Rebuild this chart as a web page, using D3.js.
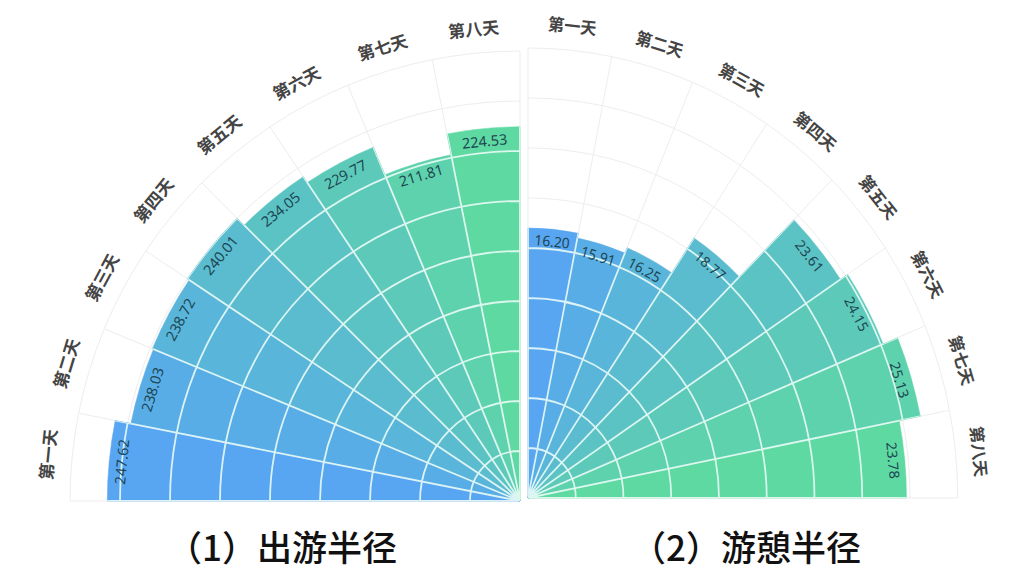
<!DOCTYPE html>
<html><head><meta charset="utf-8">
<script src="https://cdn.jsdelivr.net/npm/d3@7"></script>
<style>body{margin:0;background:#fff}svg{display:block}</style>
</head><body>
<svg id="chart" width="1024" height="581"></svg>
<script>
const days = ["第一天","第二天","第三天","第四天","第五天","第六天","第七天","第八天"];
const travelRadius = [247.62, 238.03, 238.72, 240.01, 234.05, 229.77, 211.81, 224.53];
const recreationRadius = [16.20, 15.91, 16.25, 18.77, 23.61, 24.15, 25.13, 23.78];
const travelTicks = [30, 60, 90, 120, 150, 180, 210, 240, 270];
const recreationTicks = [3, 6, 9, 12, 15, 18, 21, 24, 27];
const titles = ["（1）出游半径", "（2）游憩半径"];

const svg = d3.select("#chart");
const R = 450;
const colorStart = "#58a6f2", colorEnd = "#5fd9a2";

function drawPolar(cfg, idx) {
  const g = svg.append("g")
    .attr("transform", `translate(${cfg.cx},${cfg.cy}) scale(${cfg.sx},1)`);
  const angle = d3.scaleBand().domain(days).range(cfg.angleRange).paddingInner(0).paddingOuter(0);
  const radius = d3.scaleLinear().domain([0, d3.max(cfg.ticks)]).range([0, R]);
  const color = d3.scaleLinear().domain([0, days.length - 1])
    .range([colorStart, colorEnd]).interpolate(d3.interpolateRgb);
  const [a0, a1] = cfg.angleRange;
  const bw = angle.bandwidth();
  const boundaries = days.map(d => angle(d)).concat([a1]);

  function gridPath(p) {
    cfg.ticks.forEach(t => {
      const r = radius(t);
      p.moveTo(r * Math.sin(a0), -r * Math.cos(a0));
      p.arc(0, 0, r, a0 - Math.PI / 2, a1 - Math.PI / 2);
    });
    boundaries.forEach(a => {
      p.moveTo(0, 0);
      p.lineTo(R * Math.sin(a), -R * Math.cos(a));
    });
    return p;
  }

  g.append("path").attr("d", gridPath(d3.path()).toString())
    .attr("fill", "none").attr("stroke", "#ededed").attr("stroke-width", 1);

  const arc = d3.arc()
    .innerRadius(0)
    .outerRadius(d => radius(d.v))
    .startAngle(d => angle(d.day))
    .endAngle(d => angle(d.day) + bw);

  const data = days.map((day, i) => ({day, v: cfg.values[i], i}));

  const clipId = "barsClip" + idx;
  svg.append("defs").append("clipPath").attr("id", clipId)
    .selectAll("path").data(data).join("path").attr("d", arc);

  g.selectAll("path.bar").data(data).join("path")
    .attr("class", "bar")
    .attr("d", arc)
    .attr("fill", d => color(d.i))
    .attr("stroke", d => color(d.i))
    .attr("stroke-width", 0.5);

  g.append("path").attr("d", gridPath(d3.path()).toString())
    .attr("clip-path", `url(#${clipId})`)
    .attr("fill", "none").attr("stroke", "#e9fbf6").attr("stroke-opacity", 0.9)
    .attr("stroke-width", 1.8);

  g.selectAll("text.val").data(data).join("text")
    .attr("class", "val")
    .attr("transform", d => {
      const a = angle(d.day) + bw / 2;
      const r = radius(d.v) - 12;
      return `translate(${r * Math.sin(a)},${-r * Math.cos(a)}) rotate(${a * 180 / Math.PI})`;
    })
    .attr("text-anchor", "middle")
    .attr("dominant-baseline", "central")
    .attr("font-family", "'Noto Sans', 'DejaVu Sans', sans-serif")
    .attr("font-size", 14.5)
    .attr("fill", "#1d4753")
    .text(d => d.v.toFixed(2));

  g.selectAll("text.cat").data(days).join("text")
    .attr("class", "cat")
    .attr("transform", d => {
      const a = angle(d) + bw / 2;
      const r = R + 25;
      return `translate(${r * Math.sin(a)},${-r * Math.cos(a)}) rotate(${a * 180 / Math.PI})`;
    })
    .attr("text-anchor", "middle")
    .attr("dominant-baseline", "central")
    .attr("font-family", "'Noto Sans CJK SC', sans-serif")
    .attr("font-size", 17)
    .attr("font-weight", "bold")
    .attr("fill", "#444")
    .text(d => d);

  svg.append("text")
    .attr("x", cfg.titleX).attr("y", 561)
    .attr("text-anchor", "middle")
    .attr("font-family", "'Noto Sans CJK SC', sans-serif")
    .attr("font-size", 35)
    .attr("font-weight", 500)
    .attr("fill", "#111")
    .text(cfg.title);
}

drawPolar({cx: 520, cy: 501, sx: 1, angleRange: [-Math.PI / 2, 0],
  values: travelRadius, ticks: travelTicks, title: titles[0], titleX: 282}, 0);
drawPolar({cx: 528, cy: 498, sx: 0.955, angleRange: [0, Math.PI / 2],
  values: recreationRadius, ticks: recreationTicks, title: titles[1], titleX: 746}, 1);
</script>
</body></html>
